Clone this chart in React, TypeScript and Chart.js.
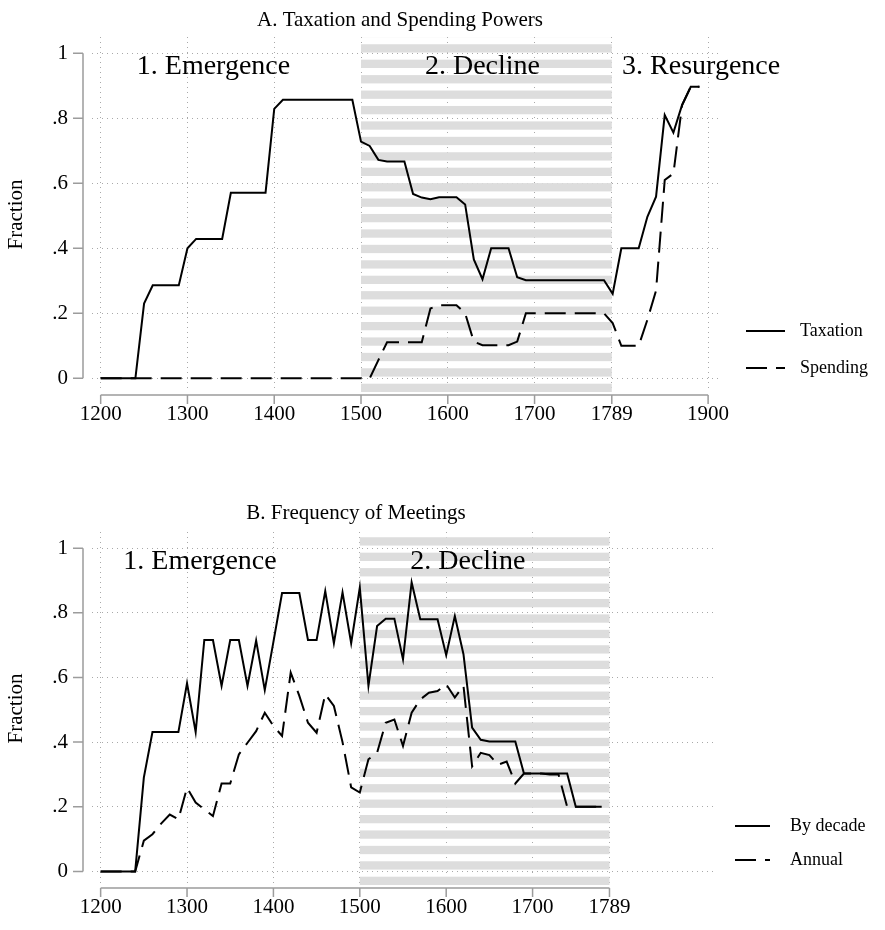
import React, { useEffect, useRef } from 'react';
import { Chart, registerables } from 'chart.js';

Chart.register(...registerables);

const FONT = "'Liberation Serif', 'Times New Roman', Times, serif";

// ---------- Panel A: Taxation and Spending Powers ----------
const yearsA = [
  1200, 1210, 1220, 1230, 1240, 1250, 1260, 1270, 1280, 1290,
  1300, 1310, 1320, 1330, 1340, 1350, 1360, 1370, 1380, 1390,
  1400, 1410, 1420, 1430, 1440, 1450, 1460, 1470, 1480, 1490,
  1500, 1510, 1520, 1530, 1540, 1550, 1560, 1570, 1580, 1590,
  1600, 1610, 1620, 1630, 1640, 1650, 1660, 1670, 1680, 1690,
  1700, 1710, 1720, 1730, 1740, 1750, 1760, 1770, 1780, 1790,
  1800, 1810, 1820, 1830, 1840, 1850, 1860, 1870, 1880, 1890,
];
const taxation = [
  0, 0, 0, 0, 0, 0.23, 0.286, 0.286, 0.286, 0.286,
  0.4, 0.429, 0.429, 0.429, 0.429, 0.571, 0.571, 0.571, 0.571, 0.571,
  0.829, 0.857, 0.857, 0.857, 0.857, 0.857, 0.857, 0.857, 0.857, 0.857,
  0.728, 0.715, 0.672, 0.667, 0.667, 0.667, 0.567, 0.556, 0.551, 0.557,
  0.557, 0.557, 0.535, 0.366, 0.305, 0.4, 0.4, 0.4, 0.311, 0.302,
  0.302, 0.302, 0.302, 0.302, 0.302, 0.302, 0.302, 0.302, 0.302, 0.26,
  0.4, 0.4, 0.4, 0.497, 0.559, 0.81, 0.756, 0.841, 0.897, 0.897,
];
const spending = [
  0, 0, 0, 0, 0, 0, 0, 0, 0, 0,
  0, 0, 0, 0, 0, 0, 0, 0, 0, 0,
  0, 0, 0, 0, 0, 0, 0, 0, 0, 0,
  0, 0, 0.056, 0.111, 0.111, 0.111, 0.111, 0.111, 0.215, 0.225,
  0.225, 0.225, 0.2, 0.113, 0.102, 0.102, 0.102, 0.102, 0.113, 0.2,
  0.2, 0.2, 0.2, 0.2, 0.2, 0.2, 0.2, 0.2, 0.2, 0.17,
  0.1, 0.1, 0.1, 0.18, 0.27, 0.61, 0.63, 0.84, 0.897, 0.897,
];
const xTicksA = [1200, 1300, 1400, 1500, 1600, 1700, 1789, 1900];
const phasesA = ['1. Emergence', '2. Decline', '3. Resurgence'];
const phasesAYear = [1330, 1640, 1892];

// ---------- Panel B: Frequency of Meetings ----------
const yearsB = [
  1200, 1210, 1220, 1230, 1240, 1250, 1260, 1270, 1280, 1290,
  1300, 1310, 1320, 1330, 1340, 1350, 1360, 1370, 1380, 1390,
  1400, 1410, 1420, 1430, 1440, 1450, 1460, 1470, 1480, 1490,
  1500, 1510, 1520, 1530, 1540, 1550, 1560, 1570, 1580, 1590,
  1600, 1610, 1620, 1630, 1640, 1650, 1660, 1670, 1680, 1690,
  1700, 1710, 1720, 1730, 1740, 1750, 1760, 1770, 1780,
];
const byDecade = [
  0, 0, 0, 0, 0, 0.29, 0.431, 0.431, 0.431, 0.431,
  0.582, 0.431, 0.716, 0.716, 0.574, 0.716, 0.716, 0.574, 0.714, 0.561,
  0.71, 0.861, 0.861, 0.861, 0.716, 0.716, 0.867, 0.706, 0.863, 0.706,
  0.878, 0.574, 0.759, 0.782, 0.782, 0.656, 0.894, 0.78, 0.78, 0.78,
  0.669, 0.79, 0.672, 0.445, 0.407, 0.402, 0.402, 0.402, 0.402, 0.303,
  0.303, 0.303, 0.303, 0.303, 0.303, 0.2, 0.2, 0.2, 0.2,
];
const annual = [
  0, 0, 0, 0, 0, 0.095, 0.115, 0.148, 0.176, 0.161,
  0.259, 0.213, 0.192, 0.171, 0.272, 0.272, 0.362, 0.398, 0.434, 0.491,
  0.45, 0.419, 0.615, 0.543, 0.46, 0.429, 0.548, 0.512, 0.4, 0.26,
  0.244, 0.347, 0.367, 0.46, 0.47, 0.388, 0.491, 0.532, 0.553, 0.558,
  0.579, 0.538, 0.574, 0.325, 0.367, 0.36, 0.33, 0.34, 0.272, 0.303,
  0.303, 0.303, 0.3, 0.3, 0.2, 0.2, 0.2, 0.2, 0.2,
];
const xTicksB = [1200, 1300, 1400, 1500, 1600, 1700, 1789];
const phasesB = ['1. Emergence', '2. Decline'];
const phasesBYear = [1315, 1625];

// ---------- shared ----------
const yTicks = [0, 0.2, 0.4, 0.6, 0.8, 1];
const yTickLabels = ['0', '.2', '.4', '.6', '.8', '1'];
const declineSpan = [1500, 1789];
const phaseLabelY = 0.935;

const W = 885;
const H = 465;

type Spec = {
  title: string;
  titleX: number;
  titleY: number;
  years: number[];
  series: { label: string; values: number[]; dash: number[] }[];
  xTicks: number[];
  xMin: number;
  xMax: number;
  phases: string[];
  phaseYears: number[];
  area: { left: number; top: number; right: number; bottom: number };
  legend: { x0: number; x1: number; tx: number; ys: number[] };
};

const specA: Spec = {
  title: 'A. Taxation and Spending Powers',
  titleX: 400,
  titleY: 26,
  years: yearsA,
  series: [
    { label: 'Taxation', values: taxation, dash: [] },
    { label: 'Spending', values: spending, dash: [21, 9] },
  ],
  xTicks: xTicksA,
  xMin: 1190,
  xMax: 1916,
  phases: phasesA,
  phaseYears: phasesAYear,
  area: { left: 92, top: 37, right: 722, bottom: 392 },
  legend: { x0: 746, x1: 785, tx: 800, ys: [331, 368] },
};

const specB: Spec = {
  title: 'B. Frequency of Meetings',
  titleX: 356,
  titleY: 54,
  years: yearsB,
  series: [
    { label: 'By decade', values: byDecade, dash: [] },
    { label: 'Annual', values: annual, dash: [21, 9] },
  ],
  xTicks: xTicksB,
  xMin: 1190,
  xMax: 1910,
  phases: phasesB,
  phaseYears: phasesBYear,
  area: { left: 92, top: 67, right: 714, bottom: 420 },
  legend: { x0: 735, x1: 770, tx: 790, ys: [361, 395] },
};

function buildConfig(s: Spec): any {
  const axisColor = '#9c9c9c';
  const decor = {
    id: 'decor',
    beforeDatasetsDraw(chart: any) {
      const { ctx, chartArea: a, scales } = chart;
      const x = scales.x;
      const xl = x.getPixelForValue(declineSpan[0]);
      const xr = x.getPixelForValue(declineSpan[1]);
      ctx.save();
      ctx.fillStyle = '#dddddd';
      for (let yb = a.bottom; yb > a.top; yb -= 15.43) {
        const yt = Math.max(a.top, yb - 8.3);
        ctx.fillRect(xl, yt, xr - xl, yb - yt);
      }
      ctx.restore();
    },
    afterDraw(chart: any) {
      const { ctx, chartArea: a, scales } = chart;
      const x = scales.x;
      const y = scales.y;
      ctx.save();
      // axes
      ctx.strokeStyle = axisColor;
      ctx.lineWidth = 1.5;
      ctx.beginPath();
      const ax = a.left - 9;
      ctx.moveTo(ax, y.getPixelForValue(yTicks[0]));
      ctx.lineTo(ax, y.getPixelForValue(yTicks[yTicks.length - 1]));
      yTicks.forEach((v) => {
        const py = y.getPixelForValue(v);
        ctx.moveTo(ax, py);
        ctx.lineTo(ax - 10, py);
      });
      const ay = a.bottom + 3;
      ctx.moveTo(x.getPixelForValue(s.xTicks[0]), ay);
      ctx.lineTo(x.getPixelForValue(s.xTicks[s.xTicks.length - 1]), ay);
      s.xTicks.forEach((v) => {
        const px = x.getPixelForValue(v);
        ctx.moveTo(px, ay);
        ctx.lineTo(px, ay + 9);
      });
      ctx.stroke();

      // title
      ctx.fillStyle = '#000';
      ctx.textAlign = 'center';
      ctx.textBaseline = 'alphabetic';
      ctx.font = `21px ${FONT}`;
      ctx.fillText(s.title, s.titleX, s.titleY);

      // phase labels
      ctx.font = `28px ${FONT}`;
      s.phases.forEach((t, i) => {
        ctx.fillText(t, x.getPixelForValue(s.phaseYears[i]), y.getPixelForValue(phaseLabelY));
      });

      // legend
      ctx.font = `18px ${FONT}`;
      ctx.textAlign = 'left';
      ctx.textBaseline = 'middle';
      chart.data.datasets.forEach((ds: any, i: number) => {
        const ly = s.legend.ys[i];
        ctx.strokeStyle = '#000';
        ctx.lineWidth = 2;
        ctx.setLineDash(ds.borderDash || []);
        ctx.beginPath();
        ctx.moveTo(s.legend.x0, ly);
        ctx.lineTo(s.legend.x1, ly);
        ctx.stroke();
        ctx.setLineDash([]);
        ctx.fillText(ds.label, s.legend.tx, ly);
      });
      ctx.restore();
    },
  };

  const gridOpts = { color: '#a9a9a9', lineWidth: 1, drawTicks: false };
  const borderOpts = { display: false, dash: [1, 4] };

  return {
    type: 'line',
    data: {
      datasets: s.series.map((se) => ({
        label: se.label,
        data: s.years.map((yr, i) => ({ x: yr, y: se.values[i] })),
        borderColor: '#000',
        borderWidth: 2,
        borderDash: se.dash,
        pointRadius: 0,
        tension: 0,
        fill: false,
      })),
    },
    options: {
      animation: false,
      responsive: false,
      maintainAspectRatio: false,
      devicePixelRatio: 1,
      layout: {
        autoPadding: false,
        padding: { left: 0, top: s.area.top, right: W - s.area.right, bottom: 0 },
      },
      plugins: {
        legend: { display: false },
        tooltip: { enabled: false },
        title: { display: false },
      },
      scales: {
        x: {
          type: 'linear',
          min: s.xMin,
          max: s.xMax,
          afterBuildTicks: (sc: any) => {
            sc.ticks = s.xTicks.map((v) => ({ value: v }));
          },
          afterFit: (sc: any) => {
            sc.height = H - s.area.bottom;
          },
          grid: gridOpts,
          border: borderOpts,
          ticks: {
            font: { size: 21, family: FONT },
            color: '#000',
            padding: 10,
            maxRotation: 0,
            autoSkip: false,
            callback: (v: number) => String(v),
          },
        },
        y: {
          type: 'linear',
          min: -0.042,
          max: 1.05,
          afterBuildTicks: (sc: any) => {
            sc.ticks = yTicks.map((v) => ({ value: v }));
          },
          afterFit: (sc: any) => {
            sc.width = s.area.left;
          },
          grid: gridOpts,
          border: borderOpts,
          ticks: {
            font: { size: 21, family: FONT },
            color: '#000',
            padding: 24,
            callback: (v: number) => yTickLabels[yTicks.indexOf(v)],
          },
          title: {
            display: true,
            text: 'Fraction',
            font: { size: 21, family: FONT },
            color: '#000',
            padding: { top: 4, bottom: 0 },
          },
        },
      },
    },
    plugins: [decor],
  };
}

function Panel({ spec, top }: { spec: Spec; top: number }) {
  const ref = useRef<HTMLCanvasElement>(null);
  useEffect(() => {
    const chart = new Chart(ref.current as HTMLCanvasElement, buildConfig(spec));
    return () => chart.destroy();
  }, [spec]);
  return (
    <canvas
      ref={ref}
      width={W}
      height={H}
      style={{ position: 'absolute', left: 0, top, width: W, height: H, display: 'block' }}
    />
  );
}

export default function App() {
  return (
    <div style={{ position: 'absolute', left: 0, top: 0, width: W, height: 930, background: '#fff' }}>
      <Panel spec={specA} top={0} />
      <Panel spec={specB} top={465} />
    </div>
  );
}
